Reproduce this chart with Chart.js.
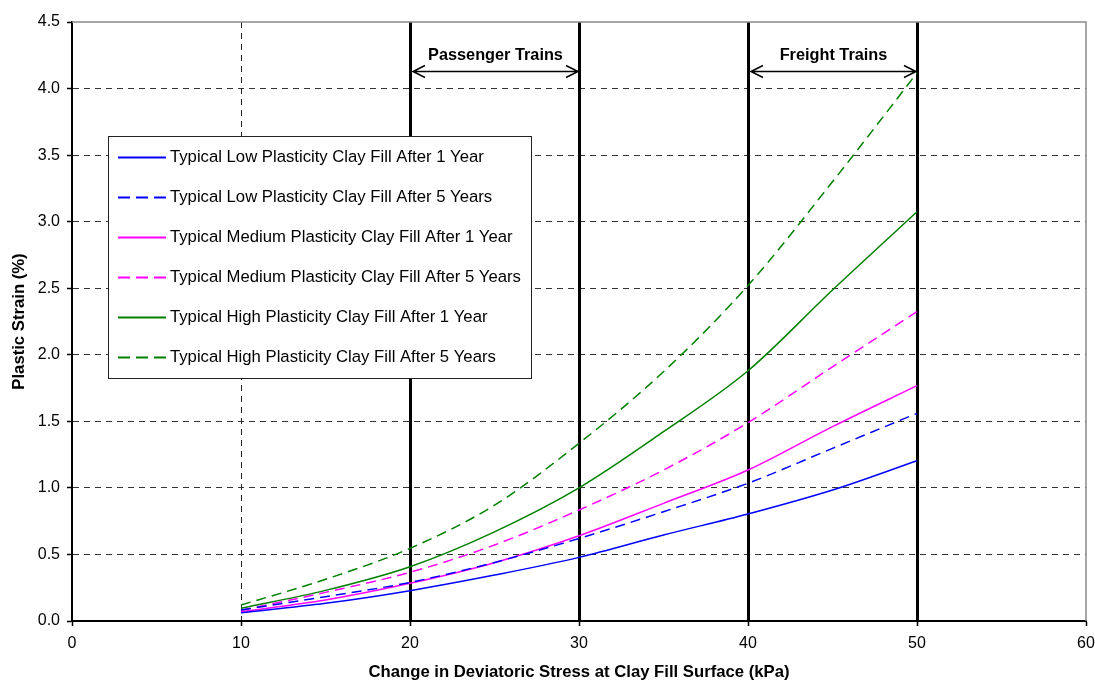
<!DOCTYPE html>
<html>
<head>
<meta charset="utf-8">
<script src="https://cdn.jsdelivr.net/npm/chart.js@4/dist/chart.umd.min.js"></script>
<style>
  html, body { margin: 0; padding: 0; background: #fff; }
  #wrap { width: 1095px; height: 680px; position: relative; }
</style>
</head>
<body>
<div id="wrap"><canvas id="c" width="1095" height="680"></canvas></div>
<script>
// ---- data ----
const stress = [10, 15, 20, 25, 30, 35, 40, 45, 50];
const lowYear1  = [0.062, 0.133, 0.228, 0.345, 0.478, 0.646, 0.804, 0.984, 1.204];
const lowYear5  = [0.083, 0.183, 0.290, 0.440, 0.620, 0.821, 1.035, 1.297, 1.560];
const medYear1  = [0.070, 0.158, 0.283, 0.438, 0.640, 0.884, 1.134, 1.460, 1.768];
const medYear5  = [0.080, 0.215, 0.366, 0.571, 0.834, 1.134, 1.490, 1.910, 2.324];
const highYear1 = [0.095, 0.230, 0.408, 0.670, 1.000, 1.422, 1.880, 2.487, 3.075];
const highYear5 = [0.120, 0.313, 0.546, 0.870, 1.335, 1.873, 2.520, 3.300, 4.117];

const seriesLabels = [
  'Typical Low Plasticity Clay Fill After 1 Year',
  'Typical Low Plasticity Clay Fill After 5 Years',
  'Typical Medium Plasticity Clay Fill After 1 Year',
  'Typical Medium Plasticity Clay Fill After 5 Years',
  'Typical High Plasticity Clay Fill After 1 Year',
  'Typical High Plasticity Clay Fill After 5 Years'
];
const markerLines = [20, 30, 40, 50];
const rangeLabels = ['Passenger Trains', 'Freight Trains'];
const rangeStarts = [20, 40];
const rangeEnds   = [30, 50];
const arrowLevel = 4.13;
const labelLevel = 4.245;
const xTitle = 'Change in Deviatoric Stress at Clay Fill Surface (kPa)';
const yTitle = 'Plastic Strain (%)';

const FONT = "'Liberation Sans', Arial, sans-serif";
const allSeries = [lowYear1, lowYear5, medYear1, medYear5, highYear1, highYear5];
const colors = ['#0000ff', '#0000ff', '#ff00ff', '#ff00ff', '#008000', '#008000'];
const dashed = [false, true, false, true, false, true];

const datasets = allSeries.map((vals, i) => ({
  label: seriesLabels[i],
  data: stress.map((x, j) => ({ x: x, y: vals[j] })),
  borderColor: colors[i],
  backgroundColor: colors[i],
  borderWidth: 1.5,
  borderDash: dashed[i] ? [10, 6] : [],
  pointRadius: 0,
  fill: false,
  cubicInterpolationMode: 'monotone'
}));

const overlay = {
  id: 'overlay',
  beforeDatasetsDraw(chart) {
    const { ctx, chartArea, scales } = chart;
    ctx.save();
    ctx.strokeStyle = '#000';
    ctx.lineWidth = 3;
    markerLines.forEach(v => {
      const px = Math.round(scales.x.getPixelForValue(v)) + 0.5;
      ctx.beginPath();
      ctx.moveTo(px, chartArea.top);
      ctx.lineTo(px, chartArea.bottom);
      ctx.stroke();
    });
    ctx.restore();
  },
  afterDatasetsDraw(chart) {
    const { ctx, chartArea, scales } = chart;
    ctx.save();
    // top & right frame
    ctx.strokeStyle = '#8a8a8a';
    ctx.lineWidth = 1.5;
    ctx.beginPath();
    ctx.moveTo(chartArea.left, chartArea.top);
    ctx.lineTo(chartArea.right, chartArea.top);
    ctx.lineTo(chartArea.right, chartArea.bottom);
    ctx.stroke();

    // range arrows
    const ay = Math.round(scales.y.getPixelForValue(arrowLevel)) + 0.5;
    const ty = scales.y.getPixelForValue(labelLevel);
    ctx.strokeStyle = '#000';
    ctx.fillStyle = '#000';
    ctx.lineWidth = 1.5;
    ctx.font = 'bold 16.3px ' + FONT;
    ctx.textAlign = 'center';
    ctx.textBaseline = 'middle';
    rangeLabels.forEach((lab, i) => {
      const x1 = scales.x.getPixelForValue(rangeStarts[i]) + 3;
      const x2 = scales.x.getPixelForValue(rangeEnds[i]) - 1;
      ctx.beginPath();
      ctx.moveTo(x1, ay); ctx.lineTo(x2, ay);
      ctx.moveTo(x1 + 12, ay - 6); ctx.lineTo(x1, ay); ctx.lineTo(x1 + 12, ay + 6);
      ctx.moveTo(x2 - 12, ay - 6); ctx.lineTo(x2, ay); ctx.lineTo(x2 - 12, ay + 6);
      ctx.stroke();
      ctx.fillText(lab, (x1 + x2) / 2, ty);
    });

    // legend box
    const bx = 108, by = 136, bw = 423, bh = 242;
    ctx.fillStyle = '#fff';
    ctx.fillRect(bx, by, bw, bh);
    ctx.strokeStyle = '#222';
    ctx.lineWidth = 1;
    ctx.strokeRect(bx + 0.5, by + 0.5, bw, bh);
    ctx.font = '16.7px ' + FONT;
    ctx.textAlign = 'left';
    ctx.textBaseline = 'middle';
    chart.data.datasets.forEach((ds, i) => {
      const yy = by + 21 + i * 40 + 0.5;
      ctx.strokeStyle = ds.borderColor;
      ctx.lineWidth = 2;
      ctx.setLineDash(ds.borderDash.length ? [12, 6] : []);
      ctx.beginPath();
      ctx.moveTo(118, yy); ctx.lineTo(166, yy);
      ctx.stroke();
      ctx.setLineDash([]);
      ctx.fillStyle = '#000';
      ctx.fillText(ds.label, 170, yy);
    });
    ctx.restore();
  }
};

new Chart(document.getElementById('c'), {
  type: 'line',
  data: { datasets: datasets },
  plugins: [overlay],
  options: {
    responsive: false,
    animation: false,
    layout: { padding: { top: 22, right: 9, left: 0, bottom: 0 } },
    plugins: { legend: { display: false }, tooltip: { enabled: false } },
    scales: {
      x: {
        type: 'linear', min: 0, max: 60,
        afterFit(s) { s.height = 59; s.paddingRight = 0; s.paddingLeft = 0; },
        ticks: { stepSize: 10, color: '#000', font: { family: FONT, size: 16 }, padding: 8, maxRotation: 0 },
        grid: {
          color: ctx => (ctx.tick && (ctx.tick.value === 0 || ctx.tick.value === 60)) ? 'rgba(0,0,0,0)' : '#222',
          lineWidth: 1,
          drawTicks: true, tickLength: 5, tickColor: '#000', tickBorderDash: [1, 0], tickWidth: 1.5
        },
        border: { display: true, color: '#000', width: 2, dash: [6, 5] },
        title: { display: true, text: xTitle, color: '#000', font: { family: FONT, size: 16.7, weight: 'bold' }, padding: { top: 0, bottom: -2 } }
      },
      y: {
        type: 'linear', min: 0, max: 4.5,
        afterFit(s) { s.width = 72; s.paddingTop = 0; s.paddingBottom = 0; },
        ticks: { stepSize: 0.5, color: '#000', font: { family: FONT, size: 16 }, padding: 7, callback: v => v.toFixed(1) },
        grid: {
          color: ctx => (ctx.tick && (ctx.tick.value === 0 || ctx.tick.value === 4.5)) ? 'rgba(0,0,0,0)' : '#333',
          lineWidth: 1,
          drawTicks: true, tickLength: 5, tickColor: '#000', tickBorderDash: [1, 0], tickWidth: 1.5
        },
        border: { display: true, color: '#000', width: 2, dash: [6, 5] },
        title: { display: true, text: yTitle, color: '#000', font: { family: FONT, size: 16.7, weight: 'bold' }, padding: { top: 9, bottom: 0 } }
      }
    }
  }
});
</script>
</body>
</html>
